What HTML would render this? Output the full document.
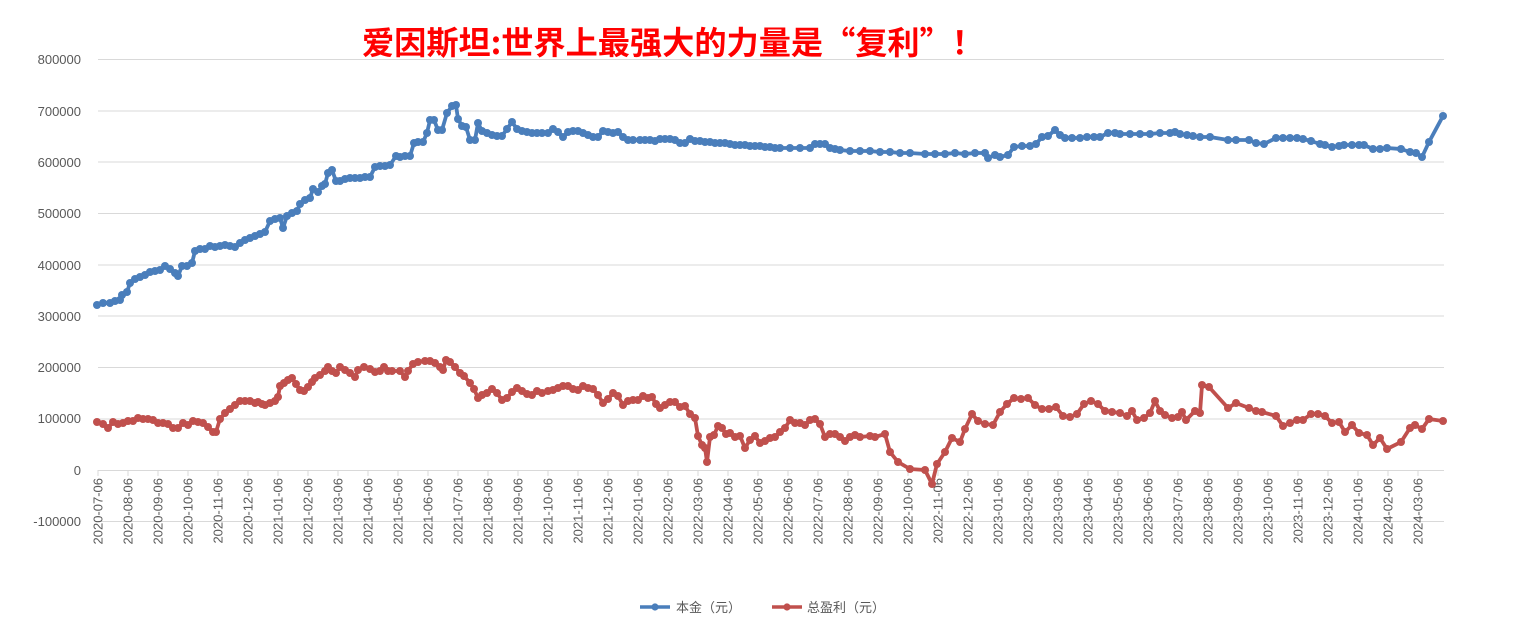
<!DOCTYPE html>
<html><head><meta charset="utf-8"><style>
html,body{margin:0;padding:0;background:#fff;}
svg{display:block;font-family:"Liberation Sans","Noto Sans CJK SC",sans-serif;}
</style></head><body>
<svg width="1526" height="627" viewBox="0 0 1526 627" xmlns="http://www.w3.org/2000/svg">
<defs>
<marker id="mb" markerUnits="userSpaceOnUse" markerWidth="10" markerHeight="10" refX="5" refY="5"><circle cx="5" cy="5" r="4" fill="#4a7ebb"/></marker>
<marker id="mr" markerUnits="userSpaceOnUse" markerWidth="10" markerHeight="10" refX="5" refY="5"><circle cx="5" cy="5" r="4" fill="#c0504d"/></marker>
</defs>
<text x="673" y="54" text-anchor="middle" font-size="32" font-weight="bold" fill="#ff0000" font-family="'Noto Sans CJK SC',sans-serif" textLength="622" lengthAdjust="spacingAndGlyphs">爱因斯坦:世界上最强大的力量是“复利”！</text>
<g stroke="#d9d9d9" stroke-width="1">
<line x1="98" y1="59.5" x2="1444" y2="59.5"/><line x1="98" y1="111" x2="1444" y2="111"/><line x1="98" y1="162" x2="1444" y2="162"/><line x1="98" y1="213.5" x2="1444" y2="213.5"/><line x1="98" y1="265" x2="1444" y2="265"/><line x1="98" y1="316" x2="1444" y2="316"/><line x1="98" y1="367.5" x2="1444" y2="367.5"/><line x1="98" y1="419" x2="1444" y2="419"/><line x1="98" y1="470.5" x2="1444" y2="470.5"/><line x1="98" y1="521.5" x2="1444" y2="521.5"/>
</g>
<g font-size="13" fill="#595959" text-anchor="end">
<text x="81" y="64">800000</text><text x="81" y="116">700000</text><text x="81" y="167">600000</text><text x="81" y="218">500000</text><text x="81" y="270">400000</text><text x="81" y="321">300000</text><text x="81" y="372">200000</text><text x="81" y="423">100000</text><text x="81" y="475">0</text><text x="81" y="526">-100000</text>
</g>
<g id="ticks" stroke="#d9d9d9"></g>
<g id="xl" font-size="13" fill="#595959"></g>
<polyline fill="none" stroke="#4a7ebb" stroke-width="3.8" stroke-linejoin="round" marker-start="url(#mb)" marker-mid="url(#mb)" marker-end="url(#mb)" points="97,305 103,303 110,303 115,301 120,300 122,295 127,292 130,283 135,279 140,277 145,275 150,272 155,271 160,270 165,266 170,269 175,273 178,276 182,266 187,266 192,263 195,251 200,249 205,249 210,246 215,247 220,246 225,245 230,246 235,247 240,243 245,240 250,238 255,236 260,234 265,232 270,221 275,219 280,218 283,228 287,216 292,213 297,211 300,204 305,200 310,198 313,189 318,192 322,186 325,184 328,173 332,170 336,181 340,181 345,179 350,178 355,178 360,178 365,177 370,177 375,167 380,166 385,166 390,165 396,156 400,157 405,156 410,156 414,143 418,142 423,142 427,133 430,120 434,120 438,130 442,130 447,113 452,106 456,105 458,119 462,126 466,127 470,140 475,140 478,123 482,131 487,133 492,135 497,136 502,136 507,129 512,122 517,129 522,131 527,132 532,133 537,133 542,133 548,133 553,129 558,132 563,137 568,132 573,131 578,131 583,133 588,135 593,137 598,137 603,131 608,132 613,133 618,132 623,137 628,140 633,140 640,140 645,140 650,140 655,141 660,139 665,139 670,139 675,140 680,143 685,143 690,139 695,141 700,141 705,142 710,142 715,143 720,143 725,143 730,144 735,145 740,145 745,145 750,146 755,146 760,146 765,147 770,147 775,148 780,148 790,148 800,148 810,148 815,144 820,144 825,144 830,148 835,149 840,150 850,151 860,151 870,151 880,152 890,152 900,153 910,153 925,154 935,154 945,154 955,153 965,154 975,153 985,153 988,158 995,155 1000,157 1008,155 1014,147 1022,146 1030,146 1036,144 1042,137 1048,136 1055,130 1060,135 1065,138 1072,138 1080,138 1087,137 1094,137 1100,137 1108,133 1115,133 1120,134 1130,134 1140,134 1150,134 1160,133 1170,133 1175,132 1180,134 1187,135 1193,136 1200,137 1210,137 1228,140 1236,140 1249,140 1256,143 1264,144 1276,138 1283,138 1290,138 1297,138 1303,139 1311,141 1320,144 1325,145 1332,147 1339,146 1344,145 1352,145 1359,145 1364,145 1373,149 1380,149 1387,148 1401,149 1410,152 1416,153 1422,157 1429,142 1443,116"/>
<polyline fill="none" stroke="#c0504d" stroke-width="3.8" stroke-linejoin="round" marker-start="url(#mr)" marker-mid="url(#mr)" marker-end="url(#mr)" points="97,422 103,424 108,428 113,422 118,424 123,423 128,421 133,421 138,418 143,419 148,419 153,420 158,423 163,423 168,424 173,428 178,428 183,423 188,425 193,421 198,422 203,423 208,427 213,432 216,432 220,419 225,413 230,409 235,405 240,401 245,401 250,401 255,403 258,402 262,404 265,405 270,403 275,401 278,397 280,386 284,383 288,380 292,378 296,384 300,390 304,391 308,387 312,382 315,378 320,375 325,371 328,367 332,371 336,373 340,367 345,370 350,373 355,377 358,370 364,367 370,369 375,372 380,371 384,367 388,371 392,371 400,371 405,377 408,371 413,364 418,362 425,361 430,361 435,363 440,367 443,370 446,360 450,362 455,367 460,373 464,376 470,383 474,389 478,398 482,395 487,393 492,389 497,393 502,400 507,398 512,392 517,388 522,391 527,394 532,395 537,391 542,393 548,391 553,390 558,388 563,386 568,386 573,389 578,390 583,386 588,388 593,389 598,395 603,403 608,399 613,393 618,396 623,405 628,401 633,400 638,400 643,396 648,398 652,397 656,404 660,408 665,405 670,402 675,402 680,407 685,406 690,414 695,418 698,436 702,445 705,448 707,462 710,437 714,435 718,426 722,428 726,434 730,433 735,437 740,436 745,448 750,440 755,436 760,443 765,441 770,438 775,437 780,432 785,428 790,420 795,423 800,423 805,425 810,420 815,419 820,424 825,437 830,434 835,434 840,437 845,441 850,437 855,435 860,437 870,436 875,437 885,434 890,452 898,462 910,469 925,470 932,484 937,464 945,452 952,438 960,442 965,429 972,414 978,421 985,424 993,425 1000,412 1007,404 1014,398 1021,399 1028,398 1035,405 1042,409 1049,409 1056,407 1063,416 1070,417 1077,414 1084,404 1091,401 1098,404 1105,411 1112,412 1120,413 1127,416 1132,411 1137,420 1144,418 1150,413 1155,401 1160,411 1165,415 1172,418 1178,417 1182,412 1186,420 1195,411 1200,413 1202,385 1209,387 1228,408 1236,403 1249,408 1256,411 1262,412 1276,416 1283,426 1290,423 1297,420 1303,420 1311,414 1318,414 1325,416 1332,423 1339,422 1345,432 1352,425 1359,433 1367,435 1373,445 1380,438 1387,449 1401,442 1410,428 1415,425 1422,429 1429,419 1443,421"/>
<g font-size="13" fill="#595959">
<line x1="640" y1="607" x2="670" y2="607" stroke="#4a7ebb" stroke-width="3.5"/><circle cx="655" cy="607" r="3.6" fill="#4a7ebb"/>
<text x="676" y="612">本金（元）</text>
<line x1="772" y1="607" x2="802" y2="607" stroke="#c0504d" stroke-width="3.5"/><circle cx="787" cy="607" r="3.6" fill="#c0504d"/>
<text x="807" y="612">总盈利（元）</text>
</g>
<script>
(function(){
var t=document.getElementById('ticks'),xl=document.getElementById('xl'),ns='http://www.w3.org/2000/svg';
var y=2020,m=7;
for(var i=0;i<45;i++){
 var x=98+i*30;
 var l=document.createElementNS(ns,'line');l.setAttribute('x1',x);l.setAttribute('x2',x);l.setAttribute('y1',470);l.setAttribute('y2',476);t.appendChild(l);
 var s=y+'-'+(m<10?'0':'')+m+'-06';
 var tx=document.createElementNS(ns,'text');tx.setAttribute('transform','translate('+(x+4.5)+',478) rotate(-90)');tx.setAttribute('text-anchor','end');tx.textContent=s;xl.appendChild(tx);
 m++;if(m>12){m=1;y++;}
}
})();
</script>
</svg>
</body></html>
